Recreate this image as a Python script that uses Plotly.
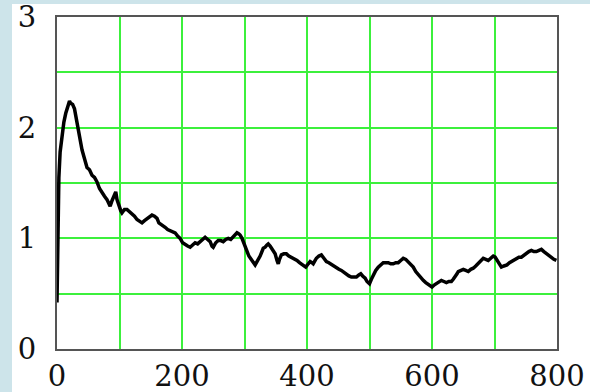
import plotly.graph_objects as go

x_vals = [0, 1, 2, 3, 5, 8, 11, 14, 17, 20, 22, 25, 28, 31, 34, 37, 40, 43, 46, 48,
          52, 56, 60, 64, 68, 72, 76, 80, 83, 85, 88, 91, 94, 96, 99, 102, 104, 108, 112, 116,
          120, 124, 128, 132, 136, 140, 144, 148, 152, 156, 160, 163, 166, 170, 173, 177, 181, 185, 189, 193,
          197, 201, 205, 209, 213, 217, 221, 225, 229, 233, 237, 241, 245, 248, 250, 254, 258, 262, 266, 270,
          274, 278, 282, 285, 288, 291, 293, 296, 298, 301, 303, 307, 312, 315, 317, 320, 325, 330, 333, 336,
          338, 341, 343, 346, 349, 352, 354, 356, 359, 363, 367, 371, 375, 379, 384, 388, 391, 395, 398, 402,
          405, 408, 410, 413, 415, 419, 423, 427, 431, 435, 440, 444, 447, 451, 455, 459, 463, 467, 471, 475,
          479, 483, 486, 489, 493, 496, 500, 503, 506, 510, 514, 518, 522, 526, 530, 534, 538, 542, 546, 550,
          554, 558, 562, 566, 570, 574, 578, 582, 586, 590, 594, 597, 600, 604, 607, 611, 615, 619, 623, 627,
          631, 634, 637, 640, 642, 646, 650, 654, 658, 662, 666, 670, 674, 678, 682, 686, 690, 694, 698, 701,
          705, 708, 711, 715, 720, 724, 727, 731, 735, 739, 743, 747, 751, 755, 759, 763, 767, 771, 775, 779,
          783, 787, 791, 795, 799]

y_vals = [0.42, 0.95, 1.35, 1.55, 1.78, 1.95, 2.05, 2.13, 2.20, 2.24, 2.22, 2.21, 2.17, 2.07, 1.98, 1.89, 1.80, 1.74, 1.68, 1.64,
          1.62, 1.57, 1.55, 1.51, 1.45, 1.41, 1.38, 1.35, 1.31, 1.29, 1.34, 1.38, 1.42, 1.35, 1.29, 1.25, 1.23, 1.26, 1.26, 1.24,
          1.23, 1.20, 1.17, 1.15, 1.14, 1.16, 1.18, 1.20, 1.21, 1.20, 1.18, 1.14, 1.13, 1.11, 1.10, 1.08, 1.07, 1.06, 1.05, 1.02,
          1.00, 0.96, 0.94, 0.93, 0.92, 0.94, 0.96, 0.95, 0.97, 0.99, 1.01, 0.99, 0.97, 0.93, 0.92, 0.96, 0.98, 0.98, 0.97, 0.99,
          1.00, 0.99, 1.01, 1.03, 1.05, 1.04, 1.03, 1.00, 0.97, 0.92, 0.89, 0.84, 0.80, 0.77, 0.76, 0.79, 0.84, 0.91, 0.92, 0.94,
          0.95, 0.93, 0.91, 0.89, 0.86, 0.80, 0.77, 0.81, 0.85, 0.86, 0.86, 0.84, 0.83, 0.82, 0.80, 0.78, 0.77, 0.75, 0.74, 0.77,
          0.79, 0.78, 0.77, 0.80, 0.82, 0.84, 0.85, 0.82, 0.79, 0.78, 0.76, 0.74, 0.73, 0.72, 0.71, 0.69, 0.67, 0.66, 0.65, 0.65,
          0.65, 0.67, 0.68, 0.66, 0.64, 0.61, 0.59, 0.63, 0.67, 0.71, 0.74, 0.76, 0.78, 0.78, 0.78, 0.77, 0.77, 0.78, 0.78, 0.80,
          0.82, 0.81, 0.79, 0.77, 0.74, 0.70, 0.67, 0.64, 0.62, 0.60, 0.58, 0.57, 0.56, 0.58, 0.59, 0.61, 0.62, 0.61, 0.60, 0.61,
          0.61, 0.63, 0.65, 0.68, 0.70, 0.71, 0.72, 0.71, 0.70, 0.72, 0.73, 0.75, 0.77, 0.79, 0.82, 0.81, 0.80, 0.82, 0.84, 0.83,
          0.79, 0.76, 0.74, 0.75, 0.76, 0.78, 0.79, 0.80, 0.82, 0.83, 0.83, 0.85, 0.86, 0.88, 0.89, 0.88, 0.88, 0.89, 0.90, 0.88,
          0.86, 0.84, 0.83, 0.81, 0.80]

x_ticks = [0, 200, 400, 600, 800]
x_tick_labels = ["0", "200", "400", "600", "800"]
y_ticks = [0, 1, 2, 3]
y_tick_labels = ["0", "1", "2", "3"]

W, H = 590, 392
ML, MR, MT, MB = 57, 33, 17, 43
pw, ph = W - ML - MR, H - MT - MB

def px_to_paper_x(px):
    return (px - ML) / pw

def px_to_paper_y(py):
    return (H - MB - py) / ph

band = "#cde4ea"
grid = "#3cf03c"
font = dict(family="DejaVu Serif", size=29, color="#111111")

fig = go.Figure()
fig.add_trace(go.Scatter(x=x_vals, y=y_vals, mode="lines",
                         line=dict(color="black", width=3.5), showlegend=False))

fig.update_layout(
    width=W, height=H,
    margin=dict(l=ML, r=MR, t=MT, b=MB, autoexpand=False),
    paper_bgcolor="white", plot_bgcolor="white",
    shapes=[
        dict(type="rect", xref="paper", yref="paper",
             x0=px_to_paper_x(0), x1=px_to_paper_x(12), y0=px_to_paper_y(H), y1=px_to_paper_y(0),
             fillcolor=band, line=dict(width=0), layer="below"),
        dict(type="rect", xref="paper", yref="paper",
             x0=px_to_paper_x(0), x1=px_to_paper_x(W), y0=px_to_paper_y(4), y1=px_to_paper_y(0),
             fillcolor=band, line=dict(width=0), layer="below"),
    ],
)

fig.update_xaxes(range=[0, 800], tickvals=x_ticks, ticktext=x_tick_labels,
                 showgrid=True, gridcolor=grid, gridwidth=2,
                 minor=dict(dtick=100, tick0=0, showgrid=True, gridcolor=grid, gridwidth=2),
                 showline=True, linecolor="#555555", linewidth=2, mirror=True,
                 ticks="", tickfont=font, zeroline=False, ticklabelstandoff=0,
                 automargin=False, ticklabeloverflow="allow")
fig.update_yaxes(range=[0, 3], tickvals=y_ticks, ticktext=y_tick_labels,
                 showgrid=True, gridcolor=grid, gridwidth=2,
                 minor=dict(dtick=0.5, tick0=0, showgrid=True, gridcolor=grid, gridwidth=2),
                 showline=True, linecolor="#555555", linewidth=2, mirror=True,
                 ticks="", tickfont=font, zeroline=False, ticklabelstandoff=13,
                 automargin=False, ticklabeloverflow="allow")

fig.write_html("out.html", config={"displayModeBar": False},
               post_script="document.body.style.margin='0';document.body.style.overflow='hidden';")
